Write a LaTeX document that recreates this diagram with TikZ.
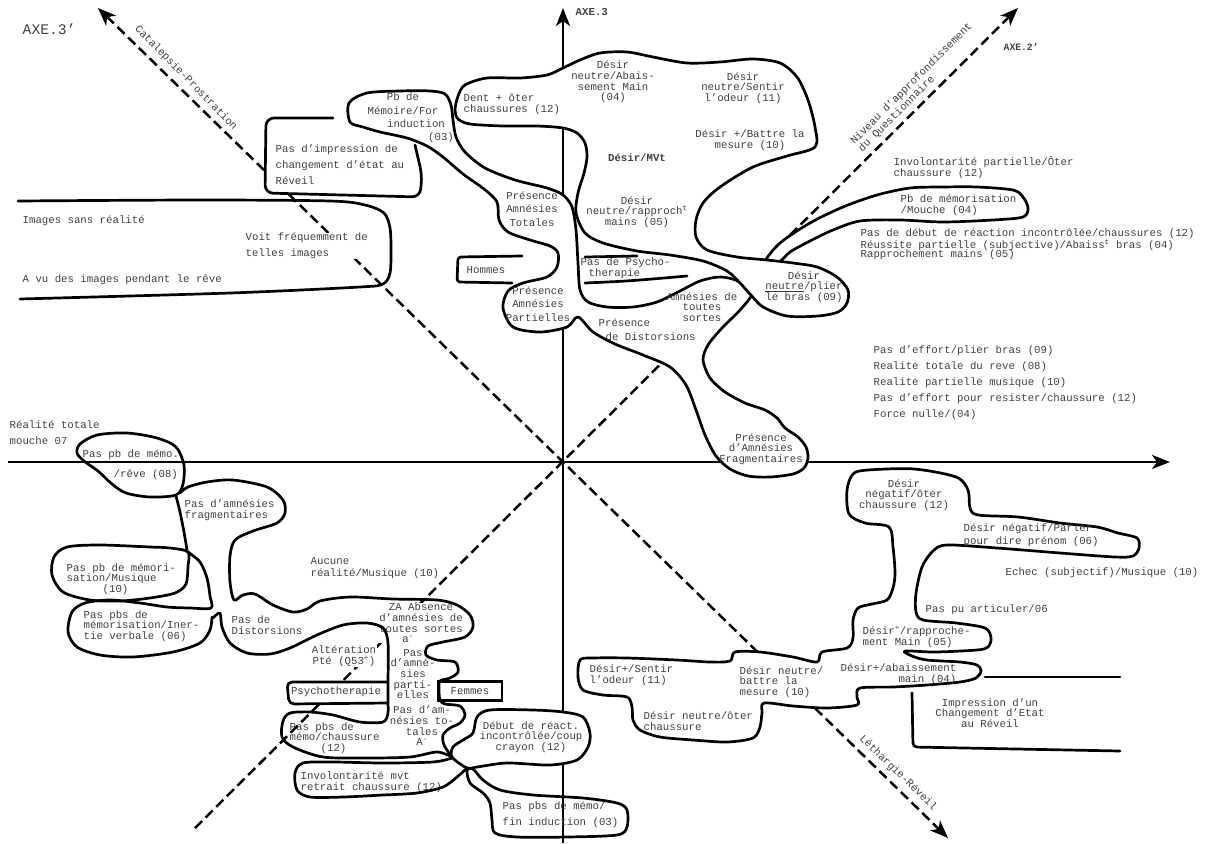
\documentclass[tikz,border=0pt]{standalone}
\usepackage{fontspec}
\setmainfont{Liberation Mono}
\usetikzlibrary{arrows.meta}

\begin{document}
\begin{tikzpicture}[x=1pt,y=-1pt,>={Stealth[length=18pt,width=14pt,inset=5pt]},
  every node/.style={font=\fontsize{10.7}{10.7}\selectfont,text=black!75,inner sep=0.5pt},
  sp13/.style={font=\fontsize{10.7}{13.3}\selectfont},
  sp16/.style={font=\fontsize{10.7}{16}\selectfont},
  blob/.style={line width=2.7pt,line join=round,line cap=round},
  wblob/.style={blob,fill=white},
  axis/.style={line width=2.2pt,->},
  diag/.style={line width=2.5pt,dash pattern=on 10pt off 5pt}]
  \useasboundingbox (0,0) rectangle (1206,843);

  \coordinate (O) at (563,462);
  \coordinate (axW) at (8,462);
  \coordinate (axE) at (1170,462);
  \coordinate (axS) at (563,843);
  \coordinate (axN) at (563,8);
  \coordinate (nw) at (98,8);
  \coordinate (se) at (948,838);
  \coordinate (ne) at (1018,8);
  \coordinate (sw) at (195,828);
  \draw[axis] (axW) -- (axE);
  \draw[axis] (axS) -- (axN);
  \draw[diag,<->] (nw) -- (se);
  \draw[diag,->] (sw) -- (ne);

  \draw[wblob,rounded corners=8pt] (333,118) -- (266,118) -- (265,193) -- (420,197) -- (422,175) -- (415,145);
  \draw[wblob] plot[smooth cycle] coordinates {(349,103) (367,93) (400,91) (430,91) (445,94) (451,105) (453,120) (456,137) (465,152) (485,168) (515,180) (547,188) (563,195) (572,207) (576,230) (578,263) (580,290) (588,302) (607,307) (633,307) (657,302) (680,291) (700,281) (720,277) (738,281) (752,293) (740,310) (722,328) (708,345) (703,360) (710,378) (725,392) (745,403) (765,410) (777,418) (785,428) (798,437) (806,447) (808,458) (804,468) (793,474) (770,477) (748,476) (730,469) (716,456) (705,435) (696,410) (686,385) (670,367) (643,355) (615,344) (593,332) (578,317) (567,327) (540,332) (513,327) (503,308) (508,291) (523,283) (547,277) (557,267) (558,253) (550,246) (530,240) (508,232) (499,220) (497,202) (484,189) (463,174) (443,157) (427,146) (407,138) (380,132) (363,127) (350,122)};
  \draw[wblob] plot[smooth cycle] coordinates {(765,262) (780,243) (810,223) (843,207) (877,195) (910,188) (943,187) (977,187) (1013,190) (1023,197) (1028,208) (1023,217) (993,220) (943,222) (900,220) (860,221) (833,230) (810,241) (790,252) (779,262)};
  \draw[wblob] plot[smooth cycle] coordinates {(455,110) (458,96) (465,85) (487,78) (520,78) (547,75) (563,68) (580,60) (600,53) (627,52) (653,57) (687,63) (720,62) (753,59) (780,63) (797,77) (808,100) (815,127) (815,147) (787,156) (753,167) (720,187) (703,203) (696,220) (696,237) (707,250) (737,257) (767,260) (793,263) (817,267) (837,277) (848,290) (847,303) (838,312) (818,316) (787,316) (763,307) (750,294) (740,283) (727,271) (703,261) (670,255) (637,251) (603,243) (585,233) (576,213) (578,193) (584,173) (587,157) (585,143) (577,133) (563,128) (537,126) (503,126) (470,124) (458,119)};
  \draw[wblob] plot[smooth cycle] coordinates {(580,660) (593,658) (627,658) (677,660) (710,662) (730,661) (735,652) (760,652) (793,657) (817,662) (822,652) (847,648) (853,638) (853,620) (858,608) (872,604) (887,600) (893,588) (895,573) (893,547) (889,527) (865,523) (849,514) (847,490) (853,474) (868,470) (914,469) (956,477) (968,490) (970,508) (978,515) (1018,517) (1060,523) (1097,527) (1118,533) (1137,538) (1139,548) (1133,556) (1115,557) (1060,553) (997,548) (947,545) (933,551) (922,567) (916,593) (916,612) (923,620) (956,623) (985,628) (991,638) (988,647) (977,650) (935,652) (905,651) (912,656) (927,660) (960,662) (977,665) (981,671) (976,678) (960,682) (927,685) (893,687) (860,688) (857,697) (857,705) (827,708) (793,706) (764,703) (762,713) (760,727) (753,738) (727,742) (693,740) (660,737) (640,730) (633,720) (632,707) (627,697) (603,695) (583,690) (578,677)};
  \draw[wblob,rounded corners=5pt] (388,682) -- (287,682) -- (289,704) -- (388,703);
  \draw[wblob] plot[smooth cycle] coordinates {(467,768) (477,767) (507,763) (550,765) (577,760) (588,747) (590,733) (583,717) (563,712) (533,710) (490,710) (477,717) (473,733) (463,740) (453,747) (452,757)};

  \node[font=\fontsize{14.7}{15}\selectfont,anchor=west] (axe3p) at (22,29) {AXE.3’};
  \node[font=\bfseries\fontsize{10.7}{11}\selectfont,anchor=west] (axe3) at (575,12) {AXE.3};
  \node[font=\bfseries\fontsize{9.7}{10}\selectfont,anchor=west] (axe2p) at (1003,47) {AXE.2’};
  \node[rotate=-45.6] (catal) at (186,78) {Catalepsie-Prostration};
  \node[rotate=-44] (lethar) at (898,773) {Léthargie-Réveil};
  \node[rotate=45,anchor=west,align=left,font=\fontsize{10.7}{11}\selectfont] (niveau) at (856,147) {Niveau d’approfondissement\\du Questionnaire};

  \node[anchor=west] (imgsans) at (22,221) {Images sans réalité};
  \node[anchor=west] (avu) at (22,280) {A vu des images pendant le rêve};
  \node[anchor=west,align=left,sp16,fill=white] (voit) at (245,246) {Voit fréquemment de\\telles images};
  \node[anchor=west,align=left,sp16] (impr) at (275,165) {Pas d’impression de\\changement d’état au\\Réveil};
  \node[align=center,sp13] (pbmem) at (403,118) {Pb de\\Mémoire/For\\\hspace*{26pt}induction\\\hspace*{76pt}(03)};
  \node[align=center,sp13] (totales) at (532,209) {Présence\\Amnésies\\Totales};
  \node (hommes) at (486,270) {Hommes};
  \node[align=center,sp13] (partiel) at (538,304) {Présence\\Amnésies\\Partielles};
  \node[anchor=west,align=left] (dent) at (463,104) {Dent + ôter\\chaussures (12)};
  \node[align=center] (abais) at (613,82) {Désir\\neutre/Abais-\\sement Main\\(04)};
  \node[align=center] (sentir) at (743,88) {Désir\\neutre/Sentir\\l’odeur (11)};
  \node[align=center] (battre) at (750,140) {Désir +/Battre la\\mesure (10)};
  \node[font=\bfseries\fontsize{10.7}{11}\selectfont] (mvt) at (637,158) {Désir/MVt};
  \node[align=center] (rappr) at (637,212) {Désir\\neutre/rapproch\textsuperscript{t}\\mains (05)};
  \node[anchor=west,align=left,font=\fontsize{10.7}{9}\selectfont] (psycho) at (580,268) {Pas de Psycho-\\\hspace*{8pt}therapie};
  \node[align=center] (plier) at (804,287) {Désir\\\underline{neutre}/plier\\le bras (09)};
  \node[align=center] (toutes) at (702,307) {Amnésies de\\toutes\\sortes};
  \node[anchor=west,align=left,font=\fontsize{10.7}{14}\selectfont] (distor) at (598,330) {Présence\\\hspace*{7pt}de Distorsions};
  \node[align=center] (fragm) at (761,449) {Présence\\d’Amnésies\\Fragmentaires};

  \node[anchor=west,align=left] (invpart) at (893,168) {Involontarité partielle/Ôter\\chaussure (12)};
  \node[anchor=west,align=left] (mouche) at (900,205) {Pb de mémorisation\\/Mouche (04)};
  \foreach \y/\t [count=\i] in {234/{Pas de début de réaction incontrôlée/chaussures (12)},
      245/{Réussite partielle (subjective)/Abaiss\textsuperscript{t} bras (04)},
      255/{Rapprochement mains (05)}}
    \node[anchor=west] (reac\i) at (860,\y) {\t};
  \foreach \y/\t [count=\i] in {351/{Pas d’effort/plier bras (09)},
      367/{Realite totale du reve (08)},
      383/{Realite partielle musique (10)},
      399/{Pas d’effort pour resister/chaussure (12)},
      415/{Force nulle/(04)}}
    \node[anchor=west] (eff\i) at (873,\y) {\t};

  \node[anchor=west,align=left,sp16] (realite) at (9,433) {Réalité totale\\mouche 07};
  \node[anchor=west,align=left,font=\fontsize{10.7}{20}\selectfont] (pbmemo) at (82,465) {Pas pb de mémo.\\\hspace*{31pt}/rêve (08)};
  \node[anchor=west,align=left] (pasfrag) at (184,510) {Pas d’amnésies\\fragmentaires};
  \node[anchor=west,align=left] (musique) at (66,579) {Pas pb de mémori-\\sation/Musique\\\hspace*{36pt}(10)};
  \node[anchor=west,align=left] (inertie) at (83,626) {Pas pbs de\\mémorisation/Iner-\\tie verbale (06)};
  \node[anchor=west,align=left] (pasdist) at (231,625) {Pas de\\Distorsions};
  \node[anchor=west,align=left,font=\fontsize{10.7}{12}\selectfont] (aucune) at (310,568) {Aucune\\réalité/Musique (10)};
  \node[align=center,fill=white] (za) at (421,623) {ZA Absence\\d’amnésies de\\toutes sortes\\a\textsuperscript{-}\hspace*{26pt}};
  \node[align=center] (pasparti) at (413,674) {Pas\\d’amné-\\sies\\parti-\\elles};
  \node[align=center] (pastot) at (422,726) {Pas d’am-\\nésies to-\\tales\\A\textsuperscript{-}};
  \node[align=center,fill=white] (alter) at (344,656) {Altération\\Pté (Q53\textsuperscript{+})};
  \node (psychoth) at (336,692) {Psychotherapie};
  \node[draw,line width=2.7pt,minimum width=64pt,minimum height=19pt] (femmes) at (470,691) {Femmes};
  \node[anchor=west,align=left] (chauss) at (289,738) {Pas pbs de\\mémo/chaussure\\\hspace*{31pt}(12)};
  \node[align=center] (debreact) at (531,737) {Début de réact.\\incontrôlée/coup\\crayon (12)};
  \node[anchor=west,align=left] (involmvt) at (300,782) {Involontarité mvt\\retrait chaussure (12)};
  \node[anchor=west,align=left,sp16] (fininduc) at (502,815) {Pas pbs de mémo/\\fin induction (03)};

  \node[align=center] (negoter) at (904,495) {Désir\\négatif/ôter\\chaussure (12)};
  \node[anchor=west,align=left,sp13] (parler) at (963,535) {Désir négatif/Parler\\pour dire prénom (06)};
  \node[anchor=west] (echec) at (1005,573) {Echec (subjectif)/Musique (10)};
  \node[anchor=west] (articul) at (925,610) {Pas pu articuler/06};
  \node[anchor=west,align=left] (rapproche) at (862,637) {Désir\textsuperscript{+}/rapproche-\\ment Main (05)};
  \node[anchor=east,align=right] (abaiss) at (957,674) {Désir+/abaissement\\main (04)};
  \node[align=center] (impression) at (990,713) {Impression d’un\\Changement d’Etat\\au Réveil};
  \node[anchor=west,align=left] (sentir11) at (589,675) {Désir+/Sentir\\l’odeur (11)};
  \node[anchor=west,align=left] (battremes) at (739,682) {Désir neutre/\\battre la\\mesure (10)};
  \node[anchor=west,align=left] (neutreoter) at (643,721) {Désir neutre/ôter\\chaussure};

  \draw[blob] plot[smooth] coordinates {(18,201) (200,200) (330,201) (365,205) (384,213) (390,228) (391,250) (390,273) (383,284) (360,287) (230,293) (20,299)};
  \draw[blob,rounded corners=3pt] (522,256) -- (458,257) -- (457,282) -- (512,283);
  \draw[blob] (585,257) -- (637,256);
  \draw[blob] (585,283) .. controls (630,281) .. (687,276);
  \draw[blob] plot[smooth cycle] coordinates {(80,444) (97,435) (127,433) (157,438) (176,447) (184,465) (183,484) (176,495) (150,497) (126,493) (112,484) (98,471) (84,461) (77,453)};
  \draw[blob] plot[smooth] coordinates {(176,496) (180,512) (184,532) (187,550)};
  \draw[blob] plot[smooth cycle] coordinates {(188,552) (170,548) (150,547) (100,545) (67,547) (54,557) (52,575) (63,592) (90,600) (120,601) (150,598) (175,593) (186,584) (188,566)};
  \draw[blob] plot[smooth] coordinates {(188,552) (200,562) (207,578) (210,596) (211,608) (190,608) (167,607) (140,603) (110,600) (85,603) (72,612) (68,632) (77,647) (100,655) (133,657) (173,652) (200,643) (210,630) (212,617)};
  \draw[blob] plot[smooth] coordinates {(180,493) (188,487) (207,482) (233,480) (267,487) (283,500) (285,513) (277,523) (253,531) (235,540) (230,556) (230,582) (234,600) (243,595) (255,594) (273,605) (293,612) (307,609) (320,601) (350,597) (393,599) (437,600) (457,605) (470,615) (473,627) (465,637) (443,642) (428,646) (426,655) (437,660) (455,662) (458,672) (450,678) (440,681) (439,690) (440,700) (445,704) (460,706) (465,715) (460,723) (450,728) (443,735) (444,745) (452,757)};
  \draw[blob] plot[smooth] coordinates {(213,618) (220,613) (222,627) (230,643) (247,653) (270,654) (290,648) (317,635) (343,625) (367,623) (383,628) (388,643) (388,682) (388,703) (388,713) (383,722) (360,722) (333,715) (310,712) (290,713) (283,721) (282,737) (293,747) (323,757) (367,758) (410,757) (437,752) (452,757)};
  \draw[blob] plot[smooth] coordinates {(452,758) (433,762) (383,763) (333,762) (303,763) (295,773) (297,790) (310,797) (343,797) (383,795) (417,793) (443,787) (457,777) (467,768)};
  \draw[blob] plot[smooth cycle] coordinates {(467,770) (470,783) (483,793) (490,803) (492,820) (495,833) (517,837) (567,837) (617,835) (627,827) (627,810) (617,803) (583,798) (533,795) (500,790) (483,780) (473,769)};
  \draw[blob] (985,677) -- (1120,677);
  \draw[blob,rounded corners=4pt] (912,693) -- (913,747) -- (1120,751);
\end{tikzpicture}
\end{document}
